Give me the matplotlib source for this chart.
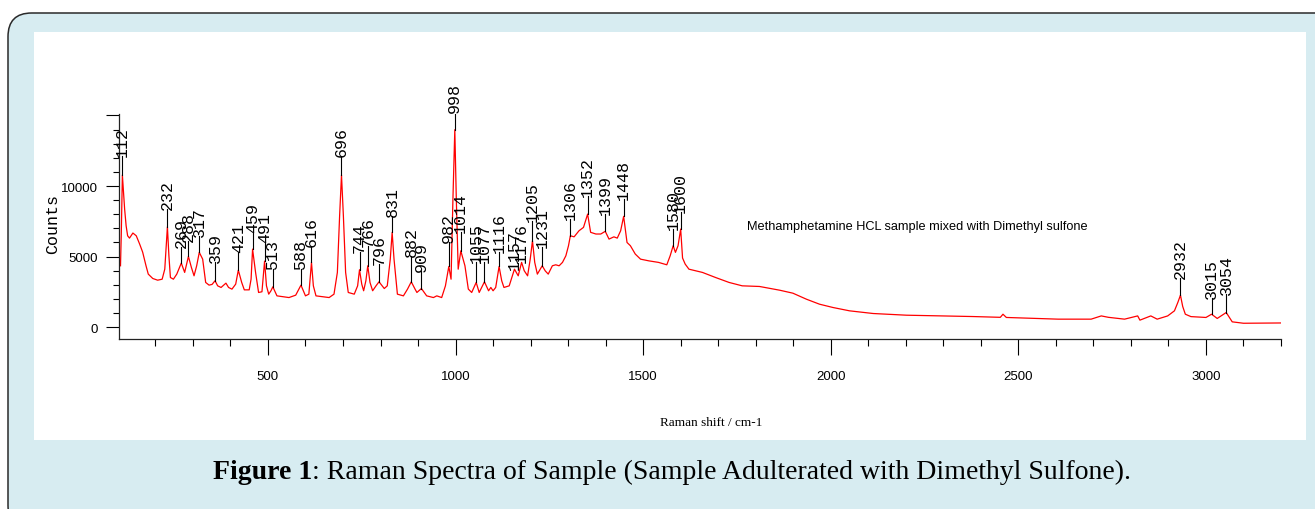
import numpy as np
import matplotlib
matplotlib.use("Agg")
import matplotlib.pyplot as plt
from matplotlib.patches import FancyBboxPatch, Rectangle
from matplotlib.ticker import MultipleLocator, FixedLocator

W, H = 1315, 510

# Raman spectrum (cm-1, counts)
wavenumber = [
    107, 109, 112, 118, 122, 126, 131, 140, 149, 158, 166, 175, 181, 193, 206,
    218, 225, 232, 236, 240, 248, 257, 269, 278, 288, 296, 303, 310, 317, 326,
    334, 343, 351, 359, 366, 375, 388, 395, 404, 414, 421, 430, 437, 450, 455,
    459, 467, 475, 484, 491, 496, 502, 508, 513, 524, 556, 574, 588, 600, 609,
    616, 621, 628, 663, 676, 685, 691, 696, 701, 707, 714, 730, 739, 744, 750,
    755, 761, 766, 772, 779, 788, 796, 810, 818, 826, 831, 836, 845, 861, 872,
    882, 892, 897, 909, 923, 941, 950, 963, 973, 982, 988, 993, 998, 1002, 1007,
    1014, 1025, 1034, 1043, 1055, 1063, 1077, 1088, 1094, 1100, 1107, 1116, 1123,
    1129, 1143, 1150, 1157, 1167, 1176, 1183, 1192, 1199, 1205, 1211, 1218, 1231,
    1239, 1247, 1258, 1267, 1276, 1285, 1294, 1301, 1306, 1316, 1329, 1341, 1352,
    1360, 1374, 1387, 1399, 1409, 1422, 1431, 1440, 1448, 1457, 1466, 1479, 1493,
    1515, 1541, 1563, 1572, 1580, 1586, 1593, 1600, 1605, 1612, 1622, 1658, 1693,
    1729, 1764, 1810, 1864, 1899, 1935, 1970, 2006, 2050, 2113, 2202, 2291, 2379,
    2452, 2459, 2468, 2606, 2694, 2721, 2740, 2783, 2818, 2824, 2853, 2870, 2898,
    2916, 2925, 2932, 2938, 2945, 2960, 3000, 3015, 3030, 3054, 3070, 3100, 3200,
]
counts = [
    4350, 6500, 10780, 8370, 7180, 6475, 6310, 6670, 6475, 5890, 5320, 4350, 3760, 3450, 3330,
    3400, 4110, 7110, 5060, 3520, 3400, 3760, 4540, 3880, 5010, 4230, 3640, 4350, 5300, 4820,
    3170, 2980, 3030, 3290, 2930, 2815, 3120, 2815, 2695, 3050, 4040, 3170, 2645, 2645, 3400,
    5530, 3880, 2460, 2510, 4680, 2930, 2340, 2580, 2860, 2220, 2100, 2270, 2980, 2220, 2340,
    4590, 2930, 2220, 2100, 2340, 3880, 7900, 10780, 7900, 3880, 2460, 2340, 2930, 4070, 3050,
    2580, 3290, 4350, 3170, 2580, 2930, 3215, 2740, 2930, 4820, 6720, 4820, 2340, 2220, 2700,
    3215, 2700, 2460, 2740, 2220, 2100, 2220, 2100, 2930, 4300, 3400, 9080, 13990, 9080, 4110,
    5410, 4350, 2700, 2460, 3170, 2460, 3215, 2580, 2815, 2580, 2815, 4300, 3290,
    2815, 2930, 3520, 4110, 3640, 4590, 4000, 3640, 4820, 6120, 4590, 3760, 4350,
    3990, 3760, 4350, 4420, 4350, 4590, 5060, 5770, 6475, 6400, 6830, 7070, 8010,
    6720, 6600, 6600, 6790, 6240, 6400, 6310, 6830, 7850, 6000, 5770, 5180, 4820,
    4700, 4590, 4420, 5060, 5770, 5300, 5770, 6950, 4900, 4470, 4110, 3880, 3520,
    3170, 2930, 2885, 2620, 2410, 1985, 1630, 1395, 1160, 970, 850, 800, 755,
    700, 920, 690, 570, 570, 800, 700, 570, 800, 500, 800, 570, 800,
    1160, 1750, 2270, 1470, 920, 750, 690, 920, 620, 1040, 380, 280, 300,
]

# Peak labels and the height where each label starts
peaks = [112, 232, 269, 288, 317, 359, 421, 459, 491, 513, 588, 616, 696, 744,
         766, 796, 831, 882, 909, 982, 998, 1014, 1055, 1077, 1116, 1157, 1176,
         1205, 1231, 1306, 1352, 1399, 1448, 1580, 1600, 2932, 3015, 3054]
label_y = [12150, 8370, 5650, 6120, 6475, 4590, 5300, 6720, 6000, 4110, 4110,
           5770, 12100, 5300, 5770, 4470, 7900, 5060, 3990, 6000, 15230, 6720,
           4590, 4590, 5300, 4110, 4590, 7500, 5650, 7660, 9310, 8010, 9080,
           6950, 8130, 3520, 2100, 2340]

x_major = [500, 1000, 1500, 2000, 2500, 3000]
y_major = [0, 5000, 10000, 15000]
y_labels = ["0", "5000", "10000", ""]

BLUE_BG = "#d7ecf1"
NARROW = "Liberation Sans"

fig = plt.figure(figsize=(W / 100, H / 100), dpi=100)
fig.patch.set_facecolor("white")

# outer rounded frame and white panel (behind the axes)
frame = FancyBboxPatch((8 / W, -20 / H), 1.2, (H - 14 + 20) / H,
                       boxstyle="round,pad=0,rounding_size=0.018",
                       transform=fig.transFigure, facecolor=BLUE_BG,
                       edgecolor="#2a2a2a", linewidth=1.1, mutation_aspect=W / H,
                       zorder=-3)
fig.add_artist(frame)
fig.add_artist(Rectangle((34 / W, 1 - 441 / H), (1306 - 34) / W, (441 - 33) / H,
                         transform=fig.transFigure, facecolor="white",
                         edgecolor="none", zorder=-2))

ax = fig.add_axes([119 / W, 1 - 339.5 / H, (1281 - 119) / W, (339.5 - 115) / H])
ax.set_facecolor("none")
ax.plot(wavenumber, counts, color="#ff0000", linewidth=0.9)

ax.set_xlim(103, 3200)
ax.set_ylim(-800, 15100)

ax.spines["top"].set_visible(False)
ax.spines["right"].set_visible(False)
for s in ("left", "bottom"):
    ax.spines[s].set_linewidth(0.9)
    ax.spines[s].set_color("#222222")

ax.xaxis.set_major_locator(FixedLocator(x_major))
ax.xaxis.set_minor_locator(MultipleLocator(100))
ax.yaxis.set_major_locator(FixedLocator(y_major))
ax.yaxis.set_minor_locator(MultipleLocator(1000))
ax.set_yticklabels(y_labels)
ax.tick_params(axis="x", which="major", length=11.5, width=0.8, pad=11.5)
ax.tick_params(axis="x", which="minor", length=5, width=0.8)
ax.tick_params(axis="y", which="major", length=9.4, width=0.8, pad=6)
ax.tick_params(axis="y", which="minor", length=4.3, width=0.8)
for lab in ax.get_xticklabels() + ax.get_yticklabels():
    lab.set_family(NARROW)
    lab.set_fontsize(9.5)

# peak markers
for p, ly in zip(peaks, label_y):
    top = np.interp(p, wavenumber, counts)
    ax.plot([p, p], [top, ly], color="black", linewidth=0.8)
    ax.text(p, ly, str(p), rotation=90, ha="center", va="bottom",
            family="Liberation Mono", fontsize=12, clip_on=False)

ax.text(1776, 7160, "Methamphetamine HCL sample mixed with Dimethyl sulfone",
        ha="left", va="center", family=NARROW, fontsize=9.2)

fig.text(53 / W, 1 - 224 / H, "Counts", rotation=90, ha="center", va="center",
         family="Liberation Mono", fontsize=12)
fig.text(711 / W, 1 - 423 / H, "Raman shift / cm-1", ha="center", va="center",
         family="Liberation Serif", fontsize=9.5)

t1 = fig.text(213 / W, 1 - 473 / H, "Figure 1", ha="left", va="center",
              family="Liberation Serif", fontsize=20, fontweight="bold")
ax.annotate(": Raman Spectra of Sample (Sample Adulterated with Dimethyl Sulfone).",
            xy=(1, 0), xycoords=t1, ha="left", va="bottom",
            family="Liberation Serif", fontsize=20, annotation_clip=False)

fig.savefig("out.png", dpi=100, facecolor="white")
